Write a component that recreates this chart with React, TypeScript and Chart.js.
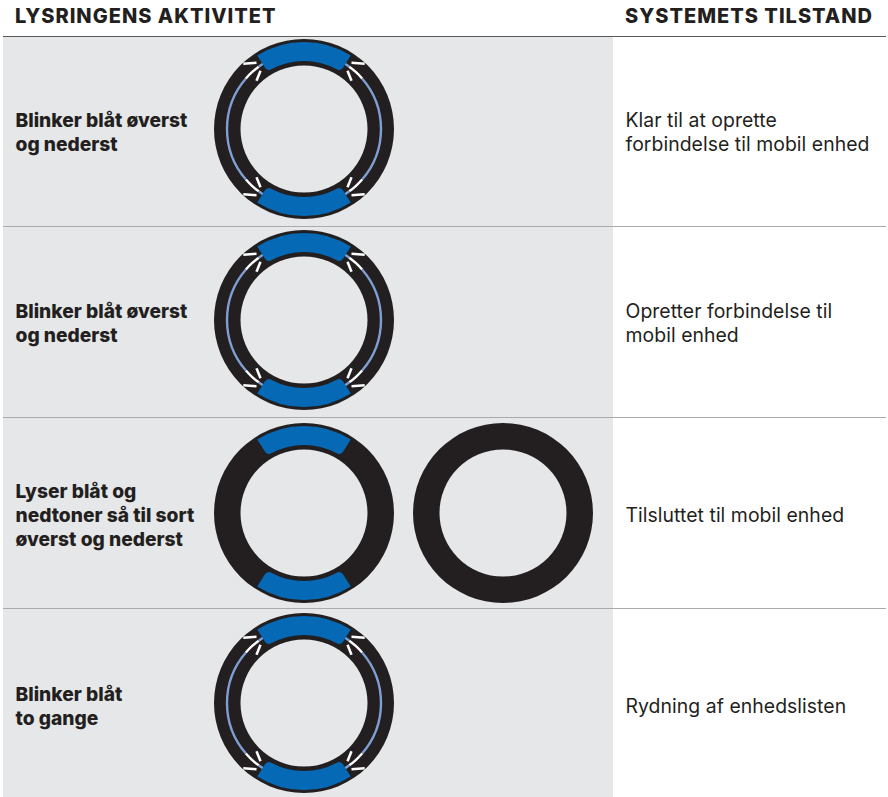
import React, { useEffect, useRef } from "react";
import { Chart, registerables } from "chart.js";

Chart.register(...registerables);

const headers = ["LYSRINGENS AKTIVITET", "SYSTEMETS TILSTAND"];
const activityLabels = [
  ["Blinker blåt øverst", "og nederst"],
  ["Blinker blåt øverst", "og nederst"],
  ["Lyser blåt og", "nedtoner så til sort", "øverst og nederst"],
  ["Blinker blåt", "to gange"],
];
const stateLabels = [
  ["Klar til at oprette", "forbindelse til mobil enhed"],
  ["Opretter forbindelse til", "mobil enhed"],
  ["Tilsluttet til mobil enhed"],
  ["Rydning af enhedslisten"],
];
// arc spans in degrees, clockwise from the rotation given below
const blueSpans = [65, 115, 65, 115];
const lineSpans = [62, 5, 13, 82, 13, 5, 62, 5, 13, 82, 13, 5];
const lineColors = ["t", "p", "w", "p", "w", "p", "t", "p", "w", "p", "w", "p"];
// short light rays for one corner, [x0, y0, x1, y1] from the ring centre
const rayOffsets = [
  [47.5, 66.3, 60.7, 65.2],
  [43.5, 58.3, 47.5, 48.3],
];
const rowAnimated = [true, true, false, true];
const ringCentresY = [129, 320, 513, 703];
const activityTextTops = [108, 299, 479, 682];
const stateTextTops = [108, 299, 503, 694];

const BLACK = "#231f20";
const BLUE = "#0569b5";
const PERI = "#7f9fd3";
const GRAY = "#e6e7e8";
const SIZE = 184;

function donut(cv: HTMLCanvasElement, data: number[], colors: string[], radius: number, inner: number, rotation: number, extra: any = {}) {
  return new Chart(cv, {
    type: "doughnut",
    data: { datasets: [{ data, backgroundColor: colors, borderWidth: 0, ...extra }] },
    options: {
      animation: false,
      responsive: false,
      rotation,
      radius,
      cutout: (inner / radius) * 100 + "%",
      layout: { padding: 0 },
      plugins: { legend: { display: false }, tooltip: { enabled: false } },
    },
  });
}

function raysChart(cv: HTMLCanvasElement) {
  const signs = [[1, 1], [-1, 1], [1, -1], [-1, -1]];
  const datasets = signs.flatMap(([sx, sy]) =>
    rayOffsets.map(([a, b, c, d]) => ({
      data: [{ x: sx * a, y: sy * b }, { x: sx * c, y: sy * d }],
      showLine: true,
      borderColor: "#ffffff",
      borderWidth: 2.5,
      pointRadius: 0,
    }))
  );
  return new Chart(cv, {
    type: "scatter",
    data: { datasets },
    options: {
      animation: false,
      responsive: false,
      layout: { padding: 0 },
      scales: {
        x: { type: "linear", min: -SIZE / 2, max: SIZE / 2, display: false },
        y: { type: "linear", min: -SIZE / 2, max: SIZE / 2, display: false },
      },
      plugins: { legend: { display: false }, tooltip: { enabled: false } },
    },
  });
}

function Ring({ cx, cy, kind }: { cx: number; cy: number; kind: "plain" | "blue" | "flash" }) {
  const a = useRef<HTMLCanvasElement>(null);
  const b = useRef<HTMLCanvasElement>(null);
  const c = useRef<HTMLCanvasElement>(null);
  const d = useRef<HTMLCanvasElement>(null);
  useEffect(() => {
    const charts: Chart[] = [donut(a.current!, [1], [BLACK], 90, 63.5, 0)];
    if (kind === "flash") {
      charts.push(
        donut(b.current!, lineSpans, lineColors.map((k) => (k === "t" ? "transparent" : k === "p" ? PERI : "#ffffff")), 78.2, 75.8, -31)
      );
      charts.push(raysChart(d.current!));
    }
    if (kind !== "plain") {
      charts.push(
        donut(c.current!, blueSpans, [BLUE, "transparent", BLUE, "transparent"], 87, 68, -32.5, {
          borderRadius: { innerStart: 5, innerEnd: 5, outerStart: 0, outerEnd: 0 },
        })
      );
    }
    return () => charts.forEach((x) => x.destroy());
  }, [kind]);
  const st: React.CSSProperties = { position: "absolute", left: cx - SIZE / 2, top: cy - SIZE / 2, width: SIZE, height: SIZE };
  return (
    <>
      <canvas ref={a} width={SIZE} height={SIZE} style={st} />
      <canvas ref={b} width={SIZE} height={SIZE} style={st} />
      <canvas ref={c} width={SIZE} height={SIZE} style={st} />
      <canvas ref={d} width={SIZE} height={SIZE} style={st} />
    </>
  );
}

const rowTops = [37, 227, 418, 609, 797];

export default function App() {
  const font = "Inter, sans-serif";
  const head: React.CSSProperties = { position: "absolute", top: 2, fontSize: 20, fontWeight: 800, lineHeight: "28px", whiteSpace: "nowrap", letterSpacing: 1 };
  return (
    <div style={{ position: "absolute", left: 0, top: 0, width: 888, height: 797, background: "#fff", overflow: "hidden", fontFamily: font, color: BLACK }}>
      <div style={{ ...head, left: 15 }}>{headers[0]}</div>
      <div style={{ ...head, left: 625 }}>{headers[1]}</div>
      <div style={{ position: "absolute", left: 3, top: 35.5, width: 883, height: 1.5, background: "#58595b" }} />
      {rowTops.slice(0, 4).map((top, i) => {
        const h = rowTops[i + 1] - top;
        return (
          <React.Fragment key={i}>
            <div style={{ position: "absolute", left: 3, top, width: 610, height: h, background: GRAY }} />
            {i > 0 && <div style={{ position: "absolute", left: 3, top: top - 1, width: 883, height: 1, background: "#a9abae" }} />}
            <div style={{ position: "absolute", left: 15.5, top: activityTextTops[i], fontSize: 19.2, fontWeight: 800, lineHeight: "24px", whiteSpace: "nowrap" }}>
              {activityLabels[i].map((t) => <div key={t}>{t}</div>)}
            </div>
            <div style={{ position: "absolute", left: 625.5, top: stateTextTops[i], fontSize: 19.4, fontWeight: 400, lineHeight: "24px", whiteSpace: "nowrap", letterSpacing: 0.05 }}>
              {stateLabels[i].map((t) => <div key={t}>{t}</div>)}
            </div>
            <Ring cx={304} cy={ringCentresY[i]} kind={rowAnimated[i] ? "flash" : "blue"} />
            {!rowAnimated[i] && <Ring cx={503} cy={ringCentresY[i]} kind="plain" />}
          </React.Fragment>
        );
      })}
    </div>
  );
}
